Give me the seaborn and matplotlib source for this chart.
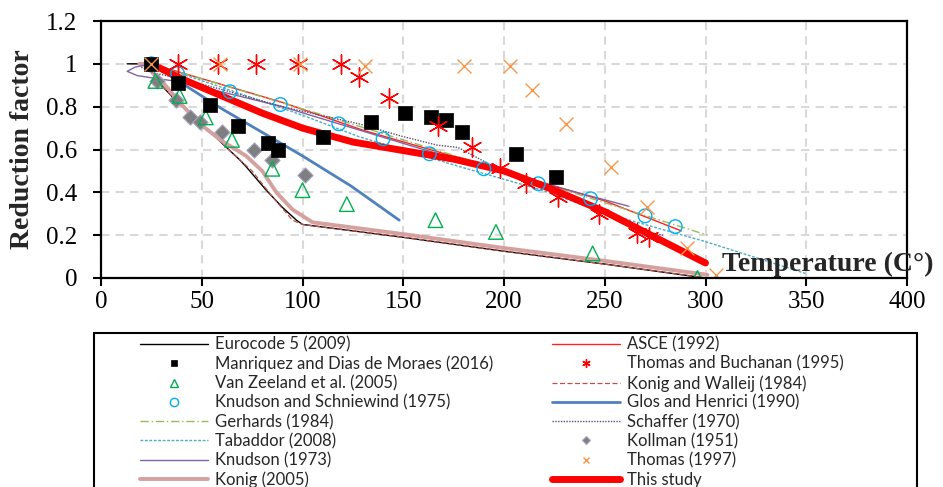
import numpy as np
import pandas as pd
import seaborn as sns
import matplotlib.pyplot as plt
from matplotlib.lines import Line2D
from matplotlib.patches import Rectangle

# ---- line series (temperature in C, reduction factor) ----
eurocode_t = [13, 21, 25, 30, 38, 50, 60, 69, 72, 82, 90, 97, 100, 150, 200, 250, 300]
eurocode_r = [1.0, 1.0, 0.96, 0.90, 0.82, 0.72, 0.63, 0.55, 0.52, 0.41, 0.33, 0.27, 0.25, 0.19, 0.125, 0.065, 0.0]

walleij_t = [21, 25, 30, 38, 50, 60, 69, 75, 85, 95, 100, 150, 200, 250, 300]
walleij_r = [1.0, 0.96, 0.90, 0.82, 0.72, 0.63, 0.55, 0.50, 0.38, 0.27, 0.25, 0.19, 0.125, 0.065, 0.0]

konig05_t = [19, 21, 31, 40, 49, 60, 72, 80, 87, 95, 105, 150, 200, 250, 301]
konig05_r = [1.0, 1.0, 0.91, 0.81, 0.72, 0.64, 0.57, 0.50, 0.40, 0.32, 0.26, 0.205, 0.14, 0.08, 0.015]

asce_t = [25, 90, 130, 200, 250, 288]
asce_r = [1.0, 0.82, 0.69, 0.50, 0.36, 0.22]

gerhards_t = [25, 100, 200, 301]
gerhards_r = [1.0, 0.79, 0.50, 0.20]

tabaddor_t = [25, 60, 100, 128, 178, 219, 251, 300, 350]
tabaddor_r = [1.0, 0.89, 0.76, 0.66, 0.52, 0.41, 0.30, 0.17, 0.02]

knudson73_t = [25, 17, 13, 18, 25, 40, 90, 160, 228, 262]
knudson73_r = [1.0, 0.985, 0.965, 0.945, 0.935, 0.915, 0.80, 0.60, 0.42, 0.335]

schaffer_t = [20, 25, 40, 60, 90, 128, 150, 167, 177, 192, 230, 268, 279]
schaffer_r = [0.985, 0.96, 0.93, 0.88, 0.80, 0.72, 0.66, 0.62, 0.61, 0.535, 0.39, 0.22, 0.20]

glos_t = [25, 40, 60, 80, 100, 124, 148]
glos_r = [1.0, 0.91, 0.79, 0.68, 0.57, 0.43, 0.27]

study_t = [25, 40, 60, 80, 100, 125, 150, 175, 200, 225, 250, 275, 300]
study_r = [1.0, 0.93, 0.85, 0.77, 0.70, 0.635, 0.595, 0.555, 0.50, 0.41, 0.31, 0.19, 0.07]

# ---- point series ----
manriquez_t = [25, 38, 54, 68, 83, 88, 110, 134, 151, 164, 171, 179, 206, 226]
manriquez_r = [1.0, 0.91, 0.81, 0.71, 0.63, 0.60, 0.66, 0.73, 0.77, 0.75, 0.74, 0.68, 0.58, 0.47]

buchanan_t = [38, 58, 77, 98, 119, 128, 143, 167, 184, 198, 211, 227, 247, 266, 272]
buchanan_r = [1.0, 1.0, 1.0, 1.0, 1.0, 0.94, 0.84, 0.71, 0.61, 0.515, 0.445, 0.38, 0.30, 0.21, 0.19]

zeeland_t = [27, 39, 52, 65, 85, 100, 122, 166, 196, 244, 296]
zeeland_r = [0.92, 0.85, 0.75, 0.645, 0.51, 0.41, 0.345, 0.27, 0.215, 0.115, 0.0]

schniewind_t = [25, 38, 64, 89, 118, 140, 163, 190, 217, 243, 270, 285]
schniewind_r = [1.0, 0.955, 0.87, 0.81, 0.72, 0.65, 0.58, 0.51, 0.44, 0.37, 0.29, 0.24]

kollman_t = [25, 28, 37, 44, 49, 60, 76, 85, 101]
kollman_r = [1.0, 0.92, 0.83, 0.75, 0.73, 0.68, 0.60, 0.55, 0.48]

thomas97_t = [25, 59, 99, 131, 180, 203, 214, 231, 253, 271, 291, 305]
thomas97_r = [1.0, 1.0, 1.0, 0.99, 0.99, 0.99, 0.88, 0.72, 0.52, 0.33, 0.14, 0.015]

x_ticks = [0, 50, 100, 150, 200, 250, 300, 350, 400]
y_ticks = [0, 0.2, 0.4, 0.6, 0.8, 1.0, 1.2]
y_labels = ["0", "0.2", "0.4", "0.6", "0.8", "1", "1.2"]

W, H = 943, 487
sns.set_theme(style="white")
plt.rcParams["font.family"] = ["Liberation Serif", "DejaVu Serif"]

fig = plt.figure(figsize=(W / 100, H / 100), dpi=100)
ax = fig.add_axes([101 / W, 1 - 278 / H, 806 / W, 257 / H])

STAR = (6, 2, 0)

# lines: (t, r, color, lw, linestyle, label)
lines = [
    (eurocode_t, eurocode_r, "black", 1.0, "-", "Eurocode 5 (2009)"),
    (walleij_t, walleij_r, "#C0504D", 0.9, (0, (4, 2)), "Konig and Walleij (1984)"),
    (konig05_t, konig05_r, "#D4A19F", 2.8, "-", "Konig (2005)"),
    (asce_t, asce_r, "#FF2020", 1.0, "-", "ASCE (1992)"),
    (gerhards_t, gerhards_r, "#9BBB59", 1.0, (0, (6, 2, 1, 2)), "Gerhards (1984)"),
    (tabaddor_t, tabaddor_r, "#4BACC6", 1.0, (0, (2, 1.2)), "Tabaddor (2008)"),
    (knudson73_t, knudson73_r, "#8064A2", 1.0, "-", "Knudson (1973)"),
    (schaffer_t, schaffer_r, "#5F497A", 1.0, (0, (1, 1)), "Schaffer (1970)"),
    (glos_t, glos_r, "#4F81BD", 2.0, "-", "Glos and Henrici (1990)"),
    (study_t, study_r, "#FF0000", 5.0, "-", "This study"),
]
for t, r, c, lw, ls, lab in lines:
    df = pd.DataFrame({"t": t, "r": r})
    sns.lineplot(data=df, x="t", y="r", ax=ax, color=c, lw=lw, linestyle=ls,
                 sort=False, estimator=None, legend=False, zorder=3)

# points: (t, r, marker, size, face, edge, lw, label, legend size)
points = [
    (kollman_t, kollman_r, "D", 60, "#7F7F7F", "#A5A5C0", 0.8, "Kollman (1951)", 4),
    (zeeland_t, zeeland_r, "^", 110, "none", "#00B050", 1.0, "Van Zeeland et al. (2005)", 6),
    (schniewind_t, schniewind_r, "o", 95, "none", "#00B0F0", 1.0, "Knudson and Schniewind (1975)", 6),
    (manriquez_t, manriquez_r, "s", 90, "black", "black", 0.5, "Manriquez and Dias de Moraes (2016)", 5),
    (buchanan_t, buchanan_r, STAR, 190, "#FF0000", "#FF0000", 1.0, "Thomas and Buchanan (1995)", 6),
    (thomas97_t, thomas97_r, "x", 100, "#F79646", "#F79646", 1.0, "Thomas (1997)", 5),
]
for t, r, m, s, fc, ec, lw, lab, _ in points:
    df = pd.DataFrame({"t": t, "r": r})
    sns.scatterplot(data=df, x="t", y="r", ax=ax, marker=m, s=s, facecolors=fc,
                    edgecolors=ec, linewidths=lw, legend=False, zorder=5)

ax.set_xlim(0, 400)
ax.set_ylim(0, 1.2)
ax.set_xticks(x_ticks)
ax.set_yticks(y_ticks)
ax.set_yticklabels(y_labels)
ax.set_xlabel("")
ax.set_ylabel("Reduction factor", fontsize=20, fontweight="bold", labelpad=8)
ax.grid(True, color="#D9D9D9", linestyle=(0, (4, 3)), lw=1.5)
for sp in ax.spines.values():
    sp.set_color("black")
    sp.set_linewidth(1.6)
    sp.set_zorder(6)
ax.tick_params(axis="both", direction="out", length=6, width=1.5, color="black",
               labelsize=18, labelcolor="black")
ax.tick_params(axis="x", pad=3, bottom=True)
ax.tick_params(axis="y", pad=11, left=True)

fig.text(722 / W, 1 - 271 / H, "Temperature (C°)", fontsize=20, fontweight="bold",
         ha="left", va="baseline")

# legend, two columns placed separately
def proxy(item, is_line):
    if is_line:
        t, r, c, lw, ls, lab = item
        return Line2D([], [], color=c, lw=lw, linestyle=ls), lab
    t, r, m, s, fc, ec, lw, lab, ms = item
    return Line2D([], [], ls="none", marker=m, ms=ms, mfc=fc, mec=ec, mew=lw), lab

line_map = {l[-1]: l for l in lines}
pt_map = {p[-2]: p for p in points}
left_col = ["Eurocode 5 (2009)", "Manriquez and Dias de Moraes (2016)",
            "Van Zeeland et al. (2005)", "Knudson and Schniewind (1975)",
            "Gerhards (1984)", "Tabaddor (2008)", "Knudson (1973)", "Konig (2005)"]
right_col = ["ASCE (1992)", "Thomas and Buchanan (1995)", "Konig and Walleij (1984)",
             "Glos and Henrici (1990)", "Schaffer (1970)", "Kollman (1951)",
             "Thomas (1997)", "This study"]

for names, x0 in [(left_col, 140), (right_col, 552)]:
    hs, ls_ = [], []
    for n in names:
        h, l = proxy(line_map[n], True) if n in line_map else proxy(pt_map[n], False)
        hs.append(h)
        ls_.append(l)
    fig.legend(hs, ls_, loc="upper left", bbox_to_anchor=(x0 / W, 1 - 336.5 / H),
               frameon=False, borderpad=0, borderaxespad=0, handlelength=4.08,
               handletextpad=0.42, labelspacing=0.186,
               prop={"family": ["Lato", "DejaVu Sans"], "size": 12})

fig.patches.append(Rectangle((94 / W, -20 / H), (917 - 94) / W, (487 + 20 - 333) / H,
                             transform=fig.transFigure, fill=False, ec="black", lw=1.5))

fig.savefig("out.png", dpi=100)
